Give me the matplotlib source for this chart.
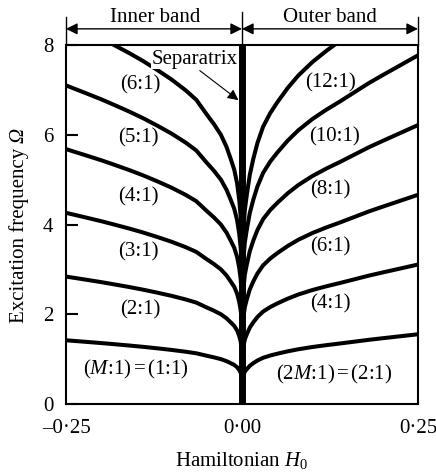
import numpy as np
import matplotlib
matplotlib.use('Agg')
import matplotlib.pyplot as plt

plt.rcParams['font.family'] = ['Liberation Serif', 'DejaVu Serif']
plt.rcParams['mathtext.fontset'] = 'custom'
plt.rcParams['mathtext.rm'] = 'Liberation Serif'
plt.rcParams['mathtext.it'] = 'Liberation Serif:italic'
plt.rcParams['font.size'] = 15

# basic frequency inside the separatrix (resonance n:1 sits at Omega = n * w)
h_inner = [-0.25, -0.22, -0.2, -0.183, -0.16, -0.14, -0.12, -0.1, -0.08,
           -0.065, -0.05, -0.04, -0.03, -0.022, -0.016, -0.011, -0.007,
           -0.004, -0.002, -0.001]
w_inner = [1.42, 1.383, 1.358, 1.335, 1.303, 1.273, 1.24, 1.205, 1.165,
           1.13, 1.075, 1.04, 1.0, 0.955, 0.91, 0.87, 0.82,
           0.76, 0.70, 0.65]

# basic frequency outside the separatrix
h_outer = [0.001, 0.002, 0.004, 0.007, 0.011, 0.016, 0.022, 0.03, 0.04,
           0.05, 0.065, 0.08, 0.1, 0.12, 0.14, 0.16, 0.18, 0.2, 0.225, 0.25]
w_outer = [0.28, 0.32, 0.36, 0.39, 0.425, 0.455, 0.485, 0.515, 0.54,
           0.56, 0.587, 0.61, 0.635, 0.656, 0.675, 0.695, 0.715, 0.733, 0.755, 0.777]

inner_orders = [1, 2, 3, 4, 5, 6]
outer_orders = [2, 4, 6, 8, 10, 12]
inner_labels = ['($M$:1)$\\,$=$\\,$(1:1)', '(2:1)', '(3:1)', '(4:1)', '(5:1)', '(6:1)']
outer_labels = ['(2$M$:1)$\\,$=$\\,$(2:1)', '(4:1)', '(6:1)', '(8:1)', '(10:1)', '(12:1)']

fig = plt.figure(figsize=(4.36, 4.76), dpi=100)
ax = fig.add_axes([66/436, 72/476, 352/436, 359/476])

for n in inner_orders:
    ax.plot(h_inner, n * np.array(w_inner), color='k', lw=2.9, solid_joinstyle='round')
for n in outer_orders:
    ax.plot(h_outer, n * np.array(w_outer), color='k', lw=2.9, solid_joinstyle='round')

# separatrix
ax.plot([0, 0], [0, 8], color='k', lw=5, solid_capstyle='butt', zorder=3)

ax.set_xlim(-0.25, 0.25)
ax.set_ylim(0, 8)
for s in ax.spines.values():
    s.set_linewidth(1.5)

ax.set_xticks([-0.25, 0, 0.25])
ax.set_xticklabels(['\u20130\u00b725', '0\u00b700', '0\u00b725'])
ax.set_yticks([0, 2, 4, 6, 8])
ax.tick_params(axis='x', length=0, pad=11)
ax.tick_params(axis='y', direction='in', length=8.5, width=1.5, pad=9)

# curve labels
in_pos = [(-0.1505, 0.76), (-0.145, 2.09), (-0.147, 3.39), (-0.147, 4.62),
          (-0.147, 5.92), (-0.145, 7.11)]
out_pos = [(0.131, 0.65), (0.125, 2.24), (0.125, 3.51), (0.125, 4.77),
           (0.1307, 5.96), (0.125, 7.15)]
for txt, (x, y) in zip(inner_labels, in_pos):
    ax.text(x, y, txt, ha='center', va='center')
for txt, (x, y) in zip(outer_labels, out_pos):
    ax.text(x, y, txt, ha='center', va='center')

ax.text(-0.0668, 7.68, 'Separatrix', ha='center', va='center', zorder=4,
        bbox=dict(facecolor='white', edgecolor='none', pad=0.5))
ax.annotate('', xy=(-0.005, 6.77), xytext=(-0.06, 7.43),
            arrowprops=dict(arrowstyle='-|>', color='k', lw=0.8,
                            mutation_scale=16, shrinkA=0, shrinkB=0))

# band markers above the frame
for x, top in [(-0.25, 8.62), (0.0, 8.74), (0.25, 8.62)]:
    ax.plot([x, x], [8, top], color='k', lw=1.0, clip_on=False)
for x0, x1 in [(-0.25, 0.0), (0.0, 0.25)]:
    ax.annotate('', xy=(x0, 8.36), xytext=(x1, 8.36), annotation_clip=False,
                arrowprops=dict(arrowstyle='<|-|>', color='k', lw=1.0,
                                mutation_scale=17, shrinkA=0, shrinkB=0))
ax.text(-0.124, 8.51, 'Inner band', ha='center', va='baseline', clip_on=False)
ax.text(0.125, 8.51, 'Outer band', ha='center', va='baseline', clip_on=False)

# y label: upright words plus an italic Omega placed right after them
renderer = fig.canvas.get_renderer()
ylab = fig.text(19/436, 153/476, 'Excitation frequency', rotation=90,
                ha='center', va='bottom')
top = ylab.get_window_extent(renderer).y1
fig.text(19/436, (top + 5) / 476, '\u03a9', rotation=90, ha='center',
         va='bottom', fontstyle='italic')
fig.text(242/436, 10/476, 'Hamiltonian $H_0$', ha='center', va='baseline')

fig.savefig('out.png', dpi=100)
